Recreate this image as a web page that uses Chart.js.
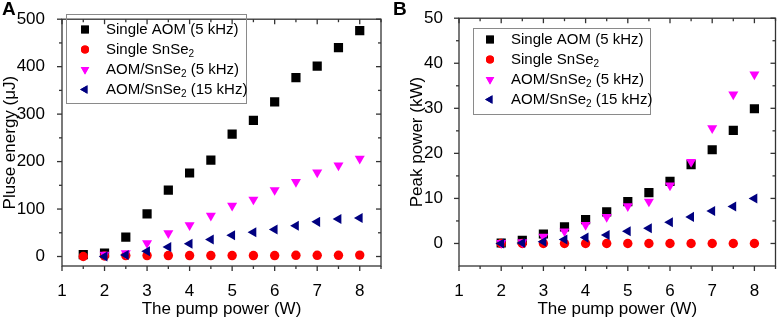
<!DOCTYPE html>
<html lang="en">
<head>
  <meta charset="UTF-8">
  <title>Pump power vs pulse energy / peak power</title>
  <script src="https://cdn.jsdelivr.net/npm/chart.js"></script>
  <style>
    body { margin: 0; background: #fff; font-family: "Liberation Sans", Arial, sans-serif; }
    #wrap { display: flex; width: 782px; height: 320px; }
    .panel { position: relative; width: 391px; height: 320px; }
    .tag { position: absolute; left: 2px; top: -2px; font: bold 19px "Liberation Sans", Arial, sans-serif; color: #000; }
  </style>
</head>
<body>

<div id="wrap">
  <div class="panel"><span class="tag">A</span><canvas id="chartA" width="391" height="320"></canvas></div>
  <div class="panel"><span class="tag">B</span><canvas id="chartB" width="391" height="320"></canvas></div>
</div>

<script>
  // pump power (W)
  const pumpA = [1.5, 2, 2.5, 3, 3.5, 4, 4.5, 5, 5.5, 6, 6.5, 7, 7.5, 8];
  const pumpB = [2, 2.5, 3, 3.5, 4, 4.5, 5, 5.5, 6, 6.5, 7, 7.5, 8];

  // (A) pulse energy, uJ  (null = no point at that pump power)
  const energyAOM5 = [4, 7, 41, 90, 140, 176, 203, 258, 287, 326, 377, 401, 440, 476];
  const energySnSe2 = [0, 1, 2, 2, 2, 2, 2, 2, 2, 2, 2.5, 2.5, 2.5, 3];
  const energyMix5 = [null, 4, 7, 28, 49, 66, 86, 107, 120, 140, 157, 177, 192, 206];
  const energyMix15 = [null, 0, 3, 11, 20, 27, 36, 45, 51, 57, 65, 73, 79, 81];

  // (B) peak power, kW
  const peakAOM5 = [0.1, 0.7, 2.1, 3.7, 5.3, 7.0, 9.3, 11.3, 13.8, 17.5, 20.8, 25.1, 29.9];
  const peakSnSe2 = [0, 0, 0, 0, 0, 0, 0, 0, 0, 0, 0, 0, 0];
  const peakMix5 = [0.1, 0.3, 1.5, 2.7, 4.1, 5.9, 8.3, 9.3, 12.9, 18.1, 25.6, 33.1, 37.5];
  const peakMix15 = [0, 0.1, 0.4, 0.9, 1.3, 1.9, 2.7, 3.4, 4.7, 5.9, 7.2, 8.2, 10.0];

  const seriesNames = ['Single AOM (5 kHz)', 'Single SnSe_2', 'AOM/SnSe_2 (5 kHz)', 'AOM/SnSe_2 (15 kHz)'];

  const xTicks = [1, 2, 3, 4, 5, 6, 7, 8];
  const yTicksA = [0, 100, 200, 300, 400, 500];
  const yTicksB = [0, 10, 20, 30, 40, 50];

  const FONT = '"Liberation Sans", Arial, sans-serif';
  const styles = [
    { color: '#000000', pointStyle: 'rect', rotation: 0, radius: 6.5, order: 4 },
    { color: '#ff0000', pointStyle: 'circle', rotation: 0, radius: 4.7, order: 3 },
    { color: '#ff00ff', pointStyle: 'triangle', rotation: 180, radius: 5.8, order: 2 },
    { color: '#000080', pointStyle: 'triangle', rotation: 270, radius: 5.8, order: 1 }
  ];

  function pairs(xs, ys) {
    return xs.map((x, i) => ({ x: x, y: ys[i] })).filter(p => p.y !== null);
  }

  function line(ctx, x1, y1, x2, y2) {
    ctx.beginPath(); ctx.moveTo(x1, y1); ctx.lineTo(x2, y2); ctx.stroke();
  }

  // frame, major + minor ticks (outward on left/bottom, inward on top/right) and the legend
  const framePlugin = {
    id: 'frame',
    afterDraw(chart, args, o) {
      const { ctx, chartArea: a, scales } = chart;
      const x = scales.x, y = scales.y;
      ctx.save();
      ctx.strokeStyle = '#333';
      ctx.lineWidth = 1.3;
      ctx.strokeRect(a.left, a.top, a.right - a.left, a.bottom - a.top);
      for (let v = x.min; v <= x.max + 1e-9; v += o.xStep / 2) {
        const px = x.getPixelForValue(v);
        const len = Math.abs(v - Math.round(v / o.xStep) * o.xStep) < 1e-6 ? 5 : 3;
        line(ctx, px, a.bottom, px, a.bottom + len);
        line(ctx, px, a.top, px, a.top + len);
      }
      for (let v = 0; v <= y.max + 1e-9; v += o.yStep / 2) {
        const py = y.getPixelForValue(v);
        const len = Math.abs(v - Math.round(v / o.yStep) * o.yStep) < 1e-6 ? 5 : 3;
        line(ctx, a.left, py, a.left - len, py);
        line(ctx, a.right, py, a.right - len, py);
      }

      // legend
      const L = o.legend;
      ctx.strokeStyle = '#8a8a8a';
      ctx.lineWidth = 1;
      ctx.strokeRect(L.x + 0.5, L.y + 0.5, L.w, L.h);
      seriesNames.forEach((name, i) => {
        const cy = L.y + L.first + i * L.gap;
        const s = styles[i];
        ctx.fillStyle = s.color;
        ctx.strokeStyle = s.color;
        Chart.helpers.drawPoint(ctx, { pointStyle: s.pointStyle, rotation: s.rotation, radius: s.radius * 0.85, borderWidth: 0 }, L.x + L.mark, cy);
        ctx.fill();
        ctx.fillStyle = '#000';
        ctx.textBaseline = 'middle';
        ctx.textAlign = 'left';
        let tx = L.x + L.text;
        name.split(/(_2)/).forEach(part => {
          if (part === '_2') {
            ctx.font = '10px ' + FONT;
            ctx.fillText('2', tx, cy + 5);
            tx += ctx.measureText('2').width;
          } else {
            ctx.font = '15px ' + FONT;
            ctx.fillText(part, tx, cy);
            tx += ctx.measureText(part).width;
          }
        });
      });
      ctx.restore();
    }
  };

  function makeChart(id, xs, series, yMin, yMax, yTicks, yTitle, box) {
    const datasets = series.map((data, i) => ({
      label: seriesNames[i],
      data: pairs(xs, data),
      pointStyle: styles[i].pointStyle,
      rotation: styles[i].rotation,
      pointRadius: styles[i].radius,
      pointBorderWidth: 0,
      backgroundColor: styles[i].color,
      borderColor: styles[i].color,
      showLine: false,
      order: styles[i].order
    }));

    return new Chart(document.getElementById(id), {
      type: 'scatter',
      data: { datasets: datasets },
      plugins: [framePlugin],
      options: {
        responsive: false,
        animation: false,
        devicePixelRatio: 1,
        layout: { padding: { top: box.top, right: box.right, left: 0, bottom: 0 } },
        plugins: {
          legend: { display: false },
          tooltip: { enabled: false },
          frame: { xStep: 1, yStep: yTicks[1] - yTicks[0], legend: box.legend }
        },
        scales: {
          x: {
            type: 'linear', min: 1, max: 8.5,
            afterBuildTicks: s => { s.ticks = xTicks.map(v => ({ value: v })); },
            afterFit: s => { s.height = 54; },
            grid: { display: false }, border: { display: false },
            ticks: { color: '#000', font: { family: FONT, size: 17 }, padding: 7, maxRotation: 0 },
            title: { display: true, text: 'The pump power (W)', color: '#000', font: { family: FONT, size: 17 }, padding: { top: 5, bottom: 0 } }
          },
          y: {
            type: 'linear', min: yMin, max: yMax,
            afterBuildTicks: s => { s.ticks = yTicks.map(v => ({ value: v })); },
            afterFit: s => { s.width = box.left; },
            grid: { display: false }, border: { display: false },
            ticks: { color: '#000', font: { family: FONT, size: 17 }, padding: box.tickPad },
            title: { display: true, text: yTitle, color: '#000', font: { family: FONT, size: 17 }, padding: { top: box.titlePad, bottom: 0 } }
          }
        }
      }
    });
  }

  makeChart('chartA', pumpA, [energyAOM5, energySnSe2, energyMix5, energyMix15], -20, 500, yTicksA, 'Pluse energy (\u03bcJ)',
    { left: 62, top: 9, right: 10, tickPad: 9, titlePad: 0,
      legend: { x: 66, y: 14, w: 180, h: 89, first: 15.5, gap: 20, mark: 19, text: 40 } });

  makeChart('chartB', pumpB, [peakAOM5, peakSnSe2, peakMix5, peakMix15], -5, 50, yTicksB, 'Peak power (kW)',
    { left: 68, top: 10, right: 2, tickPad: 8, titlePad: 16,
      legend: { x: 82, y: 28, w: 177, h: 86, first: 11.5, gap: 20, mark: 17, text: 38 } });
</script>
</body>
</html>
